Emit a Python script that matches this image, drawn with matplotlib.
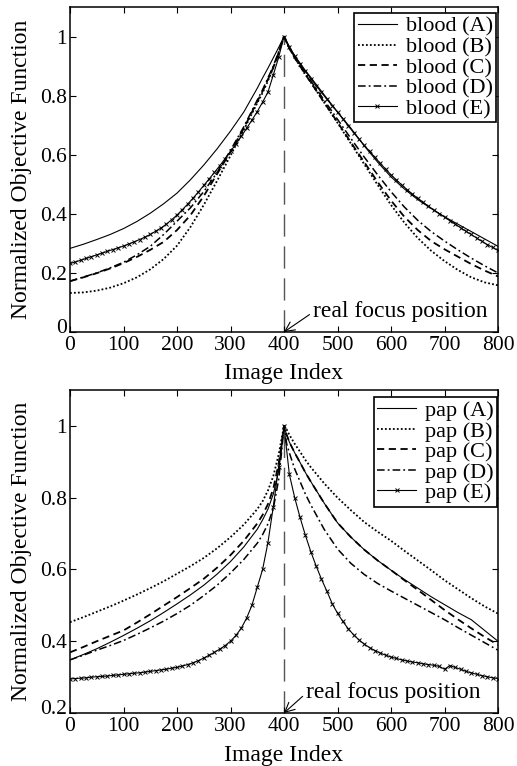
import matplotlib
matplotlib.use("Agg")
import matplotlib.pyplot as plt
from matplotlib.transforms import ScaledTranslation

plt.rcParams['font.family'] = ['Liberation Serif', 'DejaVu Serif']

# ---------------- data: blood (top panel) ----------------
blood_idx = [0, 25, 50, 75, 100, 125, 150, 175, 200, 225, 250, 275, 300, 325, 350,
             360, 370, 380, 390, 400, 410, 420, 430, 440, 450, 475,
             500, 525, 550, 575, 600, 625, 650, 675, 700, 725, 750, 775, 800]
blood_A = [0.283, 0.297, 0.313, 0.330, 0.350, 0.374, 0.402, 0.434, 0.470, 0.515, 0.565, 0.620, 0.680, 0.745, 0.825,
           0.860, 0.893, 0.928, 0.963, 1.000, 0.965, 0.935, 0.910, 0.885, 0.862, 0.803,
           0.745, 0.690, 0.630, 0.575, 0.525, 0.484, 0.448, 0.418, 0.390, 0.365, 0.340, 0.315, 0.290]
blood_B = [0.132, 0.134, 0.140, 0.150, 0.165, 0.185, 0.212, 0.247, 0.292, 0.355, 0.430, 0.512, 0.597, 0.685, 0.775,
           0.810, 0.850, 0.895, 0.945, 1.000, 0.960, 0.928, 0.900, 0.872, 0.845, 0.777,
           0.708, 0.638, 0.568, 0.498, 0.430, 0.370, 0.318, 0.275, 0.240, 0.210, 0.185, 0.168, 0.158]
blood_C = [0.172, 0.185, 0.199, 0.215, 0.233, 0.254, 0.278, 0.305, 0.345, 0.395, 0.460, 0.535, 0.610, 0.690, 0.780,
           0.815, 0.855, 0.895, 0.945, 1.000, 0.960, 0.928, 0.900, 0.872, 0.845, 0.777,
           0.710, 0.642, 0.575, 0.508, 0.445, 0.390, 0.345, 0.308, 0.280, 0.255, 0.230, 0.208, 0.188]
blood_D = [0.172, 0.186, 0.200, 0.217, 0.236, 0.261, 0.290, 0.330, 0.375, 0.420, 0.475, 0.540, 0.615, 0.695, 0.785,
           0.820, 0.860, 0.900, 0.948, 1.000, 0.962, 0.930, 0.903, 0.876, 0.850, 0.785,
           0.720, 0.655, 0.592, 0.532, 0.475, 0.423, 0.378, 0.340, 0.308, 0.278, 0.250, 0.224, 0.200]
blood_E_idx = list(range(0, 801, 10))
blood_E = [0.232, 0.237, 0.243, 0.249, 0.255, 0.261, 0.267, 0.273, 0.279, 0.285,
           0.291, 0.298, 0.305, 0.313, 0.321, 0.330, 0.341, 0.352, 0.365, 0.380,
           0.396, 0.414, 0.433, 0.453, 0.474, 0.496, 0.518, 0.540, 0.563, 0.587,
           0.611, 0.636, 0.662, 0.689, 0.717, 0.746, 0.778, 0.812, 0.870, 0.930,
           1.000,
           0.965, 0.935, 0.907, 0.882, 0.858, 0.834, 0.811, 0.788, 0.766, 0.744,
           0.721, 0.698, 0.675, 0.653, 0.632, 0.611, 0.591, 0.571, 0.551, 0.532,
           0.515, 0.498, 0.482, 0.467, 0.452, 0.439, 0.426, 0.413, 0.401, 0.389,
           0.377, 0.365, 0.353, 0.341, 0.330, 0.318, 0.307, 0.296, 0.286, 0.276]

# ---------------- data: pap (bottom panel) ----------------
pap_idx = [0, 25, 50, 75, 100, 125, 150, 175, 200, 225, 250, 275, 300, 325, 350,
           360, 370, 380, 390, 395, 400, 405, 410, 420, 430, 440, 450, 475,
           500, 525, 550, 575, 600, 625, 650, 675, 700, 725, 750, 775, 800]
pap_A = [0.348, 0.363, 0.379, 0.397, 0.416, 0.436, 0.457, 0.480, 0.504, 0.529, 0.556, 0.587, 0.622, 0.663, 0.712,
         0.738, 0.768, 0.810, 0.875, 0.930, 1.000, 0.975, 0.955, 0.925, 0.898, 0.870, 0.845, 0.785,
         0.730, 0.690, 0.655, 0.625, 0.598, 0.572, 0.548, 0.524, 0.502, 0.480, 0.460, 0.430, 0.400]
pap_B = [0.453, 0.467, 0.482, 0.497, 0.513, 0.530, 0.548, 0.567, 0.588, 0.609, 0.632, 0.659, 0.690, 0.725, 0.768,
         0.790, 0.820, 0.860, 0.920, 0.960, 1.000, 0.990, 0.975, 0.950, 0.928, 0.905, 0.885, 0.840,
         0.800, 0.765, 0.732, 0.705, 0.680, 0.652, 0.625, 0.598, 0.570, 0.545, 0.520, 0.497, 0.477]
pap_C = [0.369, 0.384, 0.400, 0.415, 0.430, 0.452, 0.475, 0.499, 0.523, 0.548, 0.574, 0.605, 0.640, 0.680, 0.728,
         0.752, 0.782, 0.825, 0.895, 0.945, 1.000, 0.975, 0.955, 0.925, 0.898, 0.870, 0.845, 0.785,
         0.730, 0.690, 0.655, 0.625, 0.598, 0.570, 0.543, 0.515, 0.487, 0.461, 0.436, 0.412, 0.390]
pap_D = [0.348, 0.361, 0.375, 0.388, 0.402, 0.419, 0.437, 0.456, 0.477, 0.500, 0.527, 0.556, 0.590, 0.628, 0.673,
         0.697, 0.727, 0.770, 0.850, 0.920, 1.000, 0.950, 0.925, 0.880, 0.845, 0.810, 0.780, 0.712,
         0.657, 0.617, 0.586, 0.561, 0.540, 0.520, 0.500, 0.480, 0.460, 0.438, 0.417, 0.396, 0.375]
pap_E_idx = list(range(0, 801, 10))
pap_E = [0.295, 0.296, 0.297, 0.298, 0.300, 0.301, 0.302, 0.303, 0.305, 0.306,
         0.308, 0.309, 0.311, 0.312, 0.314, 0.316, 0.318, 0.320, 0.322, 0.325,
         0.327, 0.331, 0.335, 0.340, 0.346, 0.353, 0.361, 0.369, 0.378, 0.388,
         0.400, 0.416, 0.436, 0.464, 0.500, 0.550, 0.600, 0.675, 0.775, 0.885,
         1.000,
         0.865, 0.800, 0.745, 0.695, 0.650, 0.610, 0.573, 0.540, 0.505, 0.478,
         0.455, 0.435, 0.418, 0.404, 0.392, 0.382, 0.374, 0.367, 0.361, 0.356,
         0.352, 0.348, 0.345, 0.342, 0.340, 0.337, 0.335, 0.333, 0.330, 0.322,
         0.332, 0.327, 0.322, 0.316, 0.312, 0.308, 0.304, 0.301, 0.298, 0.296]

focus_index = 400
xticks = [0, 100, 200, 300, 400, 500, 600, 700, 800]
blood_yticks = [0, 0.2, 0.4, 0.6, 0.8, 1]
blood_ytick_labels = ['0', '0.2', '0.4', '0.6', '0.8', '1']
pap_yticks = [0.2, 0.4, 0.6, 0.8, 1]
pap_ytick_labels = ['0.2', '0.4', '0.6', '0.8', '1']

W, H = 517, 766
fig = plt.figure(figsize=(W / 100, H / 100), dpi=100)

def axes_px(left, top, right, bottom):
    return fig.add_axes([left / W, 1 - bottom / H, (right - left) / W, (bottom - top) / H])

ax1 = axes_px(70, 7, 498, 332)
ax2 = axes_px(70, 390, 498, 713)

styles = [
    dict(color='black', lw=0.8, ls='-'),
    dict(color='black', lw=1.3, ls=(0, (1, 1.2))),
    dict(color='black', lw=1.3, ls=(0, (4, 2.5))),
    dict(color='black', lw=1.1, ls=(0, (5, 2, 1.2, 2))),
    dict(color='black', lw=0.8, ls='-', marker='x', ms=3.3, mew=0.7),
]

def panel(ax, name, xs, series, exs, ey, ylim, yticks, ylabels, legend_anchor, text_pos):
    labels = [f'{name} (A)', f'{name} (B)', f'{name} (C)', f'{name} (D)', f'{name} (E)']
    for lab, s, st in zip(labels[:4], series, styles[:4]):
        ax.plot(xs, s, label=lab, **st)
    ax.plot(exs, ey, label=labels[4], **styles[4])
    ax.plot([focus_index, focus_index], [ylim[0], 1.0], color='#555555', lw=1.0,
            ls=(0, (16, 7)), zorder=1)
    ax.set_xlim(0, 800)
    ax.set_ylim(*ylim)
    ax.set_xticks(xticks)
    ax.set_xticklabels([str(v) for v in xticks])
    ax.set_yticks(yticks)
    ax.set_yticklabels(ylabels)
    ax.tick_params(direction='in', top=True, right=True, length=4, width=0.8,
                   labelsize=15.5)
    ax.tick_params(axis='x', pad=3)
    ax.tick_params(axis='y', pad=2)
    for sp in ax.spines.values():
        sp.set_linewidth(1.1)
    ax.set_xlabel('Image Index', fontsize=17, labelpad=6)
    ax.set_ylabel('Normalized Objective Function', fontsize=17, labelpad=6)
    leg = ax.legend(loc='upper right', bbox_to_anchor=legend_anchor, fontsize=16,
                    frameon=True, fancybox=False, framealpha=1, edgecolor='black',
                    borderaxespad=0, borderpad=0.15, labelspacing=0.0,
                    handlelength=1.75, handletextpad=0.4)
    leg.get_frame().set_linewidth(1.2)
    ax.annotate('real focus position', xy=(focus_index, ylim[0]), xytext=text_pos,
                fontsize=17, va='center', ha='left',
                arrowprops=dict(arrowstyle='->', color='black', lw=0.8,
                                shrinkA=1, shrinkB=0, relpos=(0, 0.5)))
    # lift the lowest y tick label slightly, as in the reference
    lab0 = ax.yaxis.get_major_ticks()[0].label1
    lab0.set_transform(lab0.get_transform() + ScaledTranslation(0, 4 / 72, fig.dpi_scale_trans))

panel(ax1, 'blood', blood_idx, [blood_A, blood_B, blood_C, blood_D],
      blood_E_idx, blood_E, (0, 1.1), blood_yticks, blood_ytick_labels,
      (0.9953, 0.9815), (455, 0.068))
panel(ax2, 'pap', pap_idx, [pap_A, pap_B, pap_C, pap_D],
      pap_E_idx, pap_E, (0.2, 1.1), pap_yticks, pap_ytick_labels,
      (0.9977, 0.978), (442, 0.256))

fig.savefig('out.png', dpi=100)
